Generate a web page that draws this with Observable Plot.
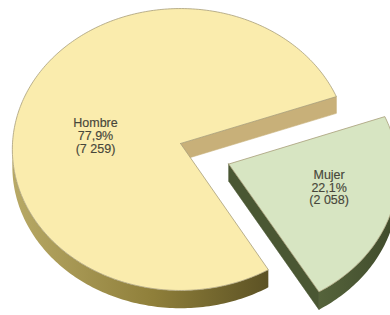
<!DOCTYPE html>
<html><head><meta charset="utf-8">
<script src="https://cdn.jsdelivr.net/npm/d3@7"></script>
<script src="https://cdn.jsdelivr.net/npm/@observablehq/plot@0.6"></script>
<style>html,body{margin:0;padding:0;background:#fff}#chart svg{display:block}</style>
</head><body><div id="chart"></div>
<script>
// ---- data ----
const categories = ["Hombre", "Mujer"];
const values = [7259, 2058];
const percentLabels = ["77,9%", "22,1%"];
const countLabels = ["(7 259)", "(2 058)"];
const topColors = ["#faecad", "#d7e5c2"];
const cutColors = ["#c8b079", "#4a5733"];
const rimColors = ["url(#rimHombre)", "url(#rimMujer)"];
const exploded = [0, 0.32];

// ---- geometry (3D tilted pie, mild perspective) ----
const W = 390, H = 315;
const CX = 180, CY = 143, R = 168;
const TILT = 0.8375, K = 0.0426, DEPTH = 17 / 168;
const deg = Math.PI / 180;
const total = d3.sum(values);
const span = values.map(v => v / total * 2 * Math.PI);
const mujerMid = 20 * deg;
const ang = [];
ang[1] = [mujerMid - span[1] / 2, mujerMid + span[1] / 2];
ang[0] = [ang[1][1], ang[1][1] + span[0]];
const labelShift = [-14 * deg, -4.5 * deg];
const labelRadius = [0.51, 0.61];

function proj(X, Y, down) {
  const d = 1 - K * Y;
  return {x: X / d, y: (TILT * Y + (down ? DEPTH : 0)) / d};
}
function offset(i) {
  const a = (ang[i][0] + ang[i][1]) / 2 + 7 * deg;
  return [exploded[i] * Math.cos(a), exploded[i] * Math.sin(a)];
}
function rim(i, a, down) {
  const [ox, oy] = offset(i);
  return proj(ox + Math.cos(a), oy + Math.sin(a), down);
}
function apex(i, down) {
  const [ox, oy] = offset(i);
  return proj(ox, oy, down);
}
function arcPts(i, a0, a1, down) {
  const n = Math.max(2, Math.ceil(Math.abs(a1 - a0) / deg));
  return d3.range(n + 1).map(k => rim(i, a0 + (a1 - a0) * k / n, down));
}

const marks = [];
categories.forEach((c, i) => {
  const [a0, a1] = ang[i];
  const faces = [];
  if (Math.cos(a1) > 0) faces.push(a1);
  if (-Math.cos(a0) > 0) faces.push(a0);
  faces.forEach(a => {
    const pts = [apex(i, false), rim(i, a, false), rim(i, a, true), apex(i, true), apex(i, false)];
    marks.push(Plot.line(pts, {x: "x", y: "y", fill: cutColors[i], stroke: cutColors[i], strokeWidth: 0.6}));
  });
  const wins = [[0, Math.PI], [2 * Math.PI, 3 * Math.PI], [-2 * Math.PI, -Math.PI]];
  wins.forEach(([w0, w1]) => {
    const s = Math.max(a0, w0), e = Math.min(a1, w1);
    if (e > s) {
      const pts = arcPts(i, s, e, false).concat(arcPts(i, e, s, true));
      pts.push(pts[0]);
      marks.push(Plot.line(pts, {x: "x", y: "y", fill: rimColors[i], stroke: "none"}));
    }
  });
  const top = [apex(i, false)].concat(arcPts(i, a0, a1, false), [apex(i, false)]);
  marks.push(Plot.line(top, {x: "x", y: "y", fill: topColors[i], stroke: "#a89e7a", strokeWidth: 0.8}));
});

const labels = categories.map((c, i) => {
  const [ox, oy] = offset(i);
  const a = (ang[i][0] + ang[i][1]) / 2 + labelShift[i];
  const p = proj(ox + labelRadius[i] * Math.cos(a), oy + labelRadius[i] * Math.sin(a), false);
  return {x: p.x, y: p.y, text: `${c}\n${percentLabels[i]}\n${countLabels[i]}`};
});
marks.push(Plot.text(labels, {x: "x", y: "y", text: "text",
  fontSize: 12.5, lineHeight: 1.02, fill: "#47463a", stroke: "#47463a", strokeWidth: 0.15,
  fontFamily: "Liberation Sans, Arial, sans-serif"}));

const chart = Plot.plot({
  width: W, height: H, margin: 0,
  x: {domain: [-CX / R, (W - CX) / R], range: [0, W], axis: null},
  y: {domain: [-CY / R, (H - CY) / R], range: [0, H], axis: null},
  style: {background: "#fff"},
  marks
});
// gradients for the side walls
const ns = "http://www.w3.org/2000/svg";
const defs = document.createElementNS(ns, "defs");
[["rimHombre", [["0%", "#b8a966"], ["55%", "#8f7f3a"], ["100%", "#5c5224"]]],
 ["rimMujer", [["0%", "#55633b"], ["100%", "#3f4a2b"]]]].forEach(([id, stops]) => {
  const g = document.createElementNS(ns, "linearGradient");
  g.setAttribute("id", id);
  g.setAttribute("x1", "0"); g.setAttribute("x2", "1"); g.setAttribute("y1", "0"); g.setAttribute("y2", "0");
  stops.forEach(([o, col]) => {
    const s = document.createElementNS(ns, "stop");
    s.setAttribute("offset", o); s.setAttribute("stop-color", col);
    g.append(s);
  });
  defs.append(g);
});
chart.prepend(defs);
document.getElementById("chart").append(chart);
</script>
</body></html>
